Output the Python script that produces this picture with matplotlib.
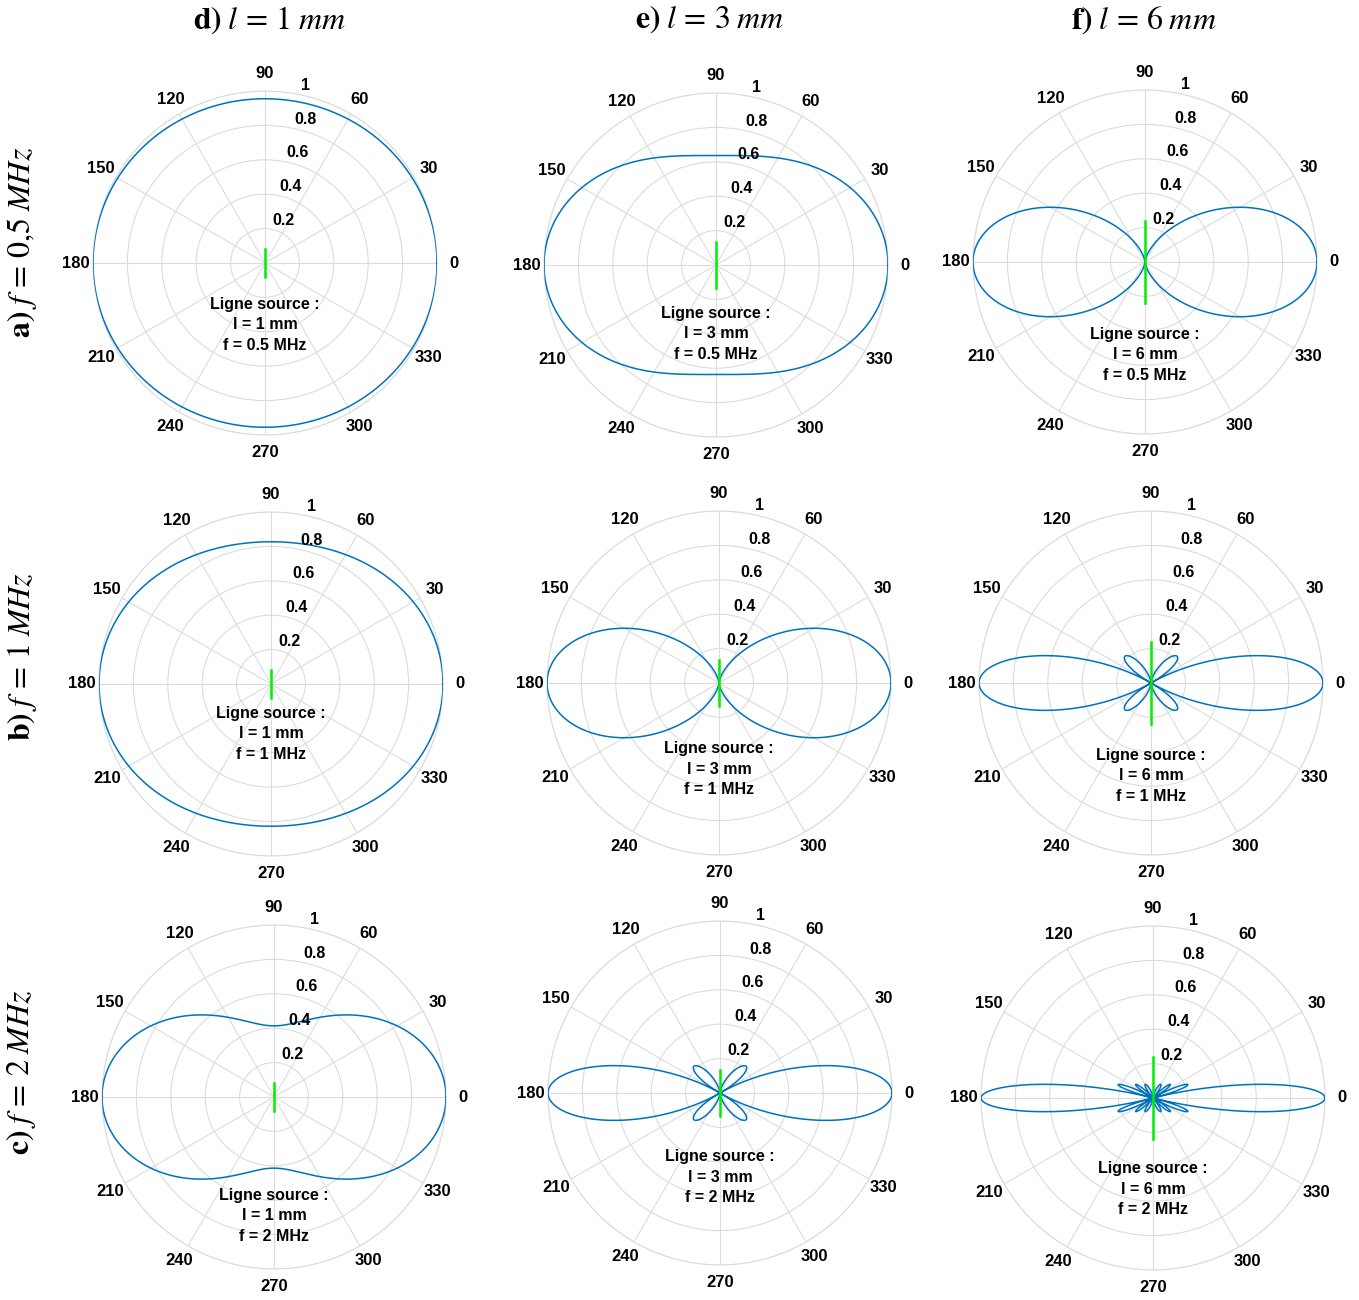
import numpy as np
import matplotlib
matplotlib.use("Agg")
import matplotlib.pyplot as plt

plt.rcParams["mathtext.fontset"] = "stix"
plt.rcParams["font.family"] = ["Liberation Sans", "DejaVu Sans"]

# ----- data -----
lengths_mm = [1, 3, 6]              # columns d, e, f
freqs_mhz = [0.5, 1, 2]             # rows a, b, c
freq_axis_labels = ["0{,}5", "1", "2"]
freq_text_labels = ["0.5", "1", "2"]
sound_speed = 3000.0                # m/s, fitted to the lobe widths
col_letters = ["d", "e", "f"]
row_letters = ["a", "b", "c"]
source_half_len = [0.08, 0.135, 0.24]   # drawn half length of the green source line
angle_ticks = list(range(0, 360, 30))
radial_ticks = [0.2, 0.4, 0.6, 0.8, 1.0]

# ----- layout (pixels in the 1359x1300 reference) -----
W, H = 1359, 1300
centers = [
    [(265, 263), (716, 265), (1145, 262)],
    [(271, 684), (719, 683), (1151, 683)],
    [(274, 1097), (720, 1093), (1153, 1098)],
]
radius_px = 172
text_offsets = [
    [0.36, 0.40, 0.54],
    [0.29, 0.50, 0.54],
    [0.69, 0.49, 0.53],
]
title_x = [269, 710, 1144]
rowlabel_y = [242, 657, 1072]

blue = "#0072BD"
grid_gray = "#dcdcdc"

fig = plt.figure(figsize=(W / 100, H / 100), dpi=100)

theta = np.linspace(0, 2 * np.pi, 2000)

for i, f_mhz in enumerate(freqs_mhz):
    for j, l_mm in enumerate(lengths_mm):
        cx, cy = centers[i][j]
        ax = fig.add_axes([(cx - radius_px) / W, 1 - (cy + radius_px) / H,
                           2 * radius_px / W, 2 * radius_px / H],
                          projection="polar")
        k = 2 * np.pi * f_mhz * 1e6 / sound_speed
        x = k * (l_mm * 1e-3) / 2 * np.sin(theta)
        directivity = np.abs(np.sinc(x / np.pi))
        ax.plot(theta, directivity, color=blue, lw=1.1, zorder=3)

        # source line
        h = source_half_len[j]
        ax.plot([np.pi / 2, 3 * np.pi / 2], [h, h], color="#00ee00", lw=1.8, zorder=4)

        ax.set_ylim(0, 1)
        ax.set_rticks(radial_ticks)
        ax.set_thetagrids(angle_ticks, labels=[])
        ax.set_yticklabels([])
        ax.grid(True, color=grid_gray, lw=0.8)
        ax.spines["polar"].set_color(grid_gray)
        ax.spines["polar"].set_linewidth(0.8)
        ax.tick_params(length=0)

        for a in angle_ticks:
            ax.text(np.deg2rad(a), 1.1, str(a), ha="center", va="center",
                    fontsize=12, fontweight="bold", clip_on=False)
        for r in radial_ticks:
            ax.text(np.deg2rad(78), r + 0.01, f"{r:g}", ha="left", va="bottom",
                    fontsize=11.5, fontweight="bold", clip_on=False, zorder=5)

        ax.text(3 * np.pi / 2, text_offsets[i][j],
                f"Ligne source :\nl = {l_mm} mm\nf = {freq_text_labels[i]} MHz",
                ha="center", va="center", fontsize=11.5, fontweight="bold",
                linespacing=1.45, zorder=5)

for j, l_mm in enumerate(lengths_mm):
    fig.text(title_x[j] / W, 1 - 20 / H,
             rf"$\mathbf{{{col_letters[j]})}}\;l\,=\,{l_mm}\;mm$",
             ha="center", va="center", fontsize=23)

for i in range(3):
    fig.text(22 / W, 1 - rowlabel_y[i] / H,
             rf"$\mathbf{{{row_letters[i]})}}\;f\,=\,{freq_axis_labels[i]}\;MHz$",
             ha="center", va="center", fontsize=23, rotation=90)

fig.savefig("out.png", dpi=100, facecolor="white")
